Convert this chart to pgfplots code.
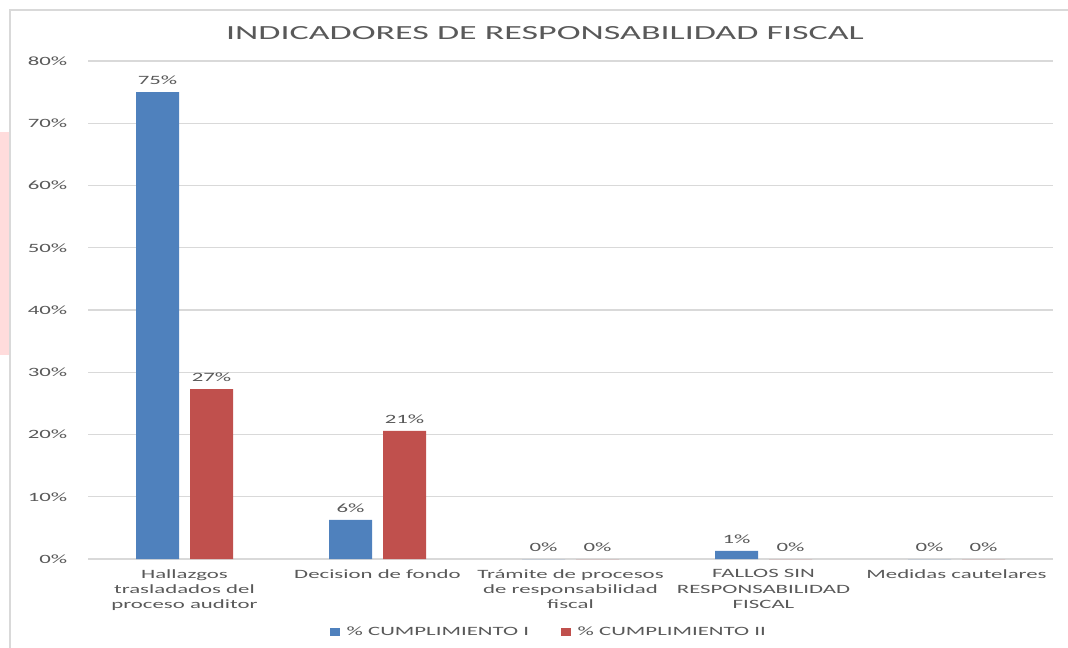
\documentclass[border=0pt]{standalone}
\usepackage{pgfplots}
\pgfplotsset{compat=1.18}
\usepackage{fontspec}
\setmainfont{Carlito}[FakeStretch=1.8]
\definecolor{blueS}{HTML}{4F81BD}
\definecolor{redS}{HTML}{C0504D}
\definecolor{txt}{HTML}{595959}
\definecolor{gridc}{HTML}{D9D9D9}
\definecolor{pinkbox}{HTML}{FFDCDC}
\begin{document}
\begin{tikzpicture}
\path[use as bounding box] (0,0) rectangle (801pt,485.25pt);
\fill[pinkbox] (0,219pt) rectangle (6.75pt,386.25pt);
\draw[gridc, line width=1pt] (7.5pt,-1pt) -- (7.5pt,477.75pt) -- (802pt,477.75pt);
\node[text=txt, font=\fontsize{15}{18}\selectfont] at (408.75pt,460.5pt) {INDICADORES DE RESPONSABILIDAD FISCAL};
\begin{axis}[
  at={(66pt,66pt)}, anchor=south west,
  scale only axis, width=723.75pt, height=373.5pt,
  xmin=-0.5, xmax=4.5, ymin=0, ymax=80,
  ybar=8.25pt, bar width=32.25pt,
  axis line style={draw=none},
  major tick length=0pt,
  ymajorgrids, grid style={gridc, line width=0.8pt},
  ytick={0,10,...,80},
  yticklabels={0\%,10\%,20\%,30\%,40\%,50\%,60\%,70\%,80\%},
  yticklabel style={anchor=east, xshift=-12pt},
  xtick={0,1,2,3,4},
  xticklabels={{Hallazgos\\trasladados del\\proceso auditor},{Decision de fondo},{Trámite de procesos\\de responsabilidad\\fiscal},{FALLOS SIN\\RESPONSABILIDAD\\FISCAL},{Medidas cautelares}},
  xticklabel style={align=center, anchor=north, yshift=-4.5pt},
  ticklabel style={text=txt, font=\fontsize{9.5}{11.4}\selectfont},
  /pgf/number format/assume math mode=true,
  nodes near coords={\pgfmathprintnumber[fixed,precision=0]{\pgfplotspointmeta}\%},
  nodes near coords style={text=txt, font=\fontsize{9.5}{11.4}\selectfont, anchor=south, yshift=2pt},
  legend style={at={(0.478,-0.1466)}, anchor=center, draw=none, fill=none,
    legend columns=2, font=\fontsize{9.5}{11.4}\selectfont, text=txt,
    /tikz/every even column/.append style={column sep=22pt}},
  legend image code/.code={\fill[#1] (0pt,-3pt) rectangle (7.5pt,3pt);},
]
\addplot[fill=blueS, draw=none] coordinates {(0,75) (1,6.3) (2,0) (3,1.3) (4,0)};
\addplot[fill=redS, draw=none] coordinates {(0,27.3) (1,20.6) (2,0) (3,0) (4,0)};
\legend{\hspace{3pt}\% CUMPLIMIENTO I, \hspace{3pt}\% CUMPLIMIENTO II}
\end{axis}
\end{tikzpicture}
\end{document}
